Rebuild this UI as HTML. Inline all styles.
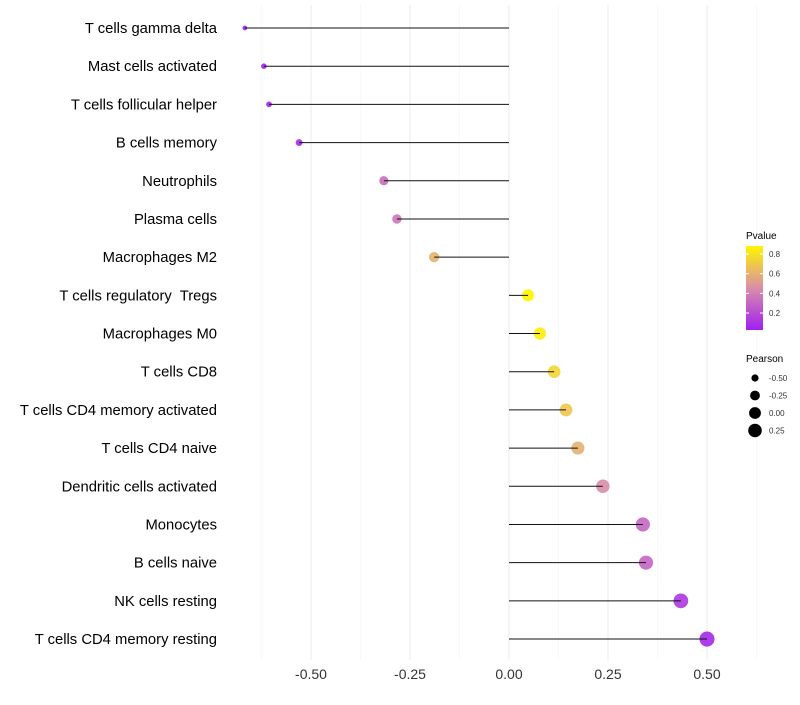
<!DOCTYPE html>
<html><head><meta charset="utf-8"><style>
body{margin:0;background:#fff;font-family:"Liberation Sans",sans-serif}
text{white-space:pre}
</style></head><body>
<svg id="chart" width="800" height="700" xmlns="http://www.w3.org/2000/svg" font-family="Liberation Sans, sans-serif">
<defs><linearGradient id="pg" x1="0" y1="1" x2="0" y2="0">
<stop offset="0" stop-color="#A020F0"/><stop offset="0.5" stop-color="#D98EA8"/><stop offset="1" stop-color="#FFF500"/></linearGradient></defs>
<g id="grid"></g>
<g id="dots"></g>
<g id="marks"></g>
<g id="ylab"></g>
<g id="xlab"></g>
<g>
<text x="746" y="239" font-size="10">Pvalue</text>
<rect x="746" y="246" width="17" height="84" fill="url(#pg)"/>
<g id="cbticks"></g>
</g>
<g>
<text x="746" y="362" font-size="10">Pearson</text>
<g id="sizeleg"></g>
</g>
</svg>
<script>
const categories=["T cells gamma delta","Mast cells activated","T cells follicular helper","B cells memory","Neutrophils","Plasma cells","Macrophages M2","T cells regulatory  Tregs","Macrophages M0","T cells CD8","T cells CD4 memory activated","T cells CD4 naive","Dendritic cells activated","Monocytes","B cells naive","NK cells resting","T cells CD4 memory resting"];
const pearson=[-0.667,-0.619,-0.606,-0.530,-0.316,-0.283,-0.189,0.048,0.078,0.114,0.144,0.174,0.237,0.338,0.346,0.434,0.500];
const pvalue=[0.03,0.04,0.05,0.07,0.33,0.36,0.6,0.88,0.85,0.75,0.68,0.6,0.45,0.3,0.3,0.12,0.06];
const xTicks=[-0.5,-0.25,0,0.25,0.5];
const xTickLabels=["-0.50","-0.25","0.00","0.25","0.50"];
const cbTicks=[0.2,0.4,0.6,0.8];
const sizeLegend=[-0.5,-0.25,0,0.25];
const NS="http://www.w3.org/2000/svg";
const x=v=>509+v*396;
const y=i=>28+i*38.19;
const r=v=>Math.max(1.6,Math.sqrt(Math.max(0,35+44*v)));
const cy=p=>313-(p-0.2)*98.3;
function col(p){const t=Math.max(0,Math.min(1,(p-0.027)/(0.88-0.027)));
 const a=[160,32,240],m=[217,142,168],b=[255,245,0];let c;
 if(t<0.5){const u=t/0.5;c=a.map((v,k)=>v+(m[k]-v)*u);}else{const u=(t-0.5)/0.5;c=m.map((v,k)=>v+(b[k]-v)*u);}
 return `rgb(${c.map(Math.round).join(',')})`;}
function mk(tag,attrs,parent){const e=document.createElementNS(NS,tag);for(const k in attrs)e.setAttribute(k,attrs[k]);parent.appendChild(e);return e;}
const grid=document.getElementById('grid'),marks=document.getElementById('marks'),dots=document.getElementById('dots'),ylab=document.getElementById('ylab'),xlab=document.getElementById('xlab');
for(let v=-0.625;v<=0.626;v+=0.125){
 const major=xTicks.some(t=>Math.abs(t-v)<1e-6);
 const l=mk('line',{x1:x(v),x2:x(v),y1:5,y2:660,stroke:major?'#ebebeb':'#f4f4f4','stroke-width':major?1:0.6},grid);
 
 
}
xTicks.forEach((t,i)=>{
 const e=mk('text',{x:x(t),y:679,'font-size':14,'text-anchor':'middle',fill:'#333'},xlab);e.textContent=xTickLabels[i];
 
 
});
categories.forEach((c,i)=>{
 const t=mk('text',{x:217,y:y(i)+5,'font-size':14.8,'text-anchor':'end',fill:'#000'},ylab);t.textContent=c;
 
 
 const d=mk('circle',{cx:x(pearson[i]),cy:y(i),r:r(pearson[i]),fill:col(pvalue[i]),'fill-opacity':0.9},dots);
 
 
 const l=mk('line',{x1:x(0),x2:x(pearson[i]),y1:y(i),y2:y(i),stroke:'#111','stroke-width':1},marks);
 
 
});
const cbt=document.getElementById('cbticks');
cbTicks.forEach(p=>{
 mk('line',{x1:746,x2:749,y1:cy(p),y2:cy(p),stroke:'#fff'},cbt);mk('line',{x1:760,x2:763,y1:cy(p),y2:cy(p),stroke:'#fff'},cbt);
 const t=mk('text',{x:769,y:cy(p)+3,'font-size':8,fill:'#333'},cbt);t.textContent=p.toFixed(1);
 
 
});
const sl=document.getElementById('sizeleg');
sizeLegend.forEach((v,i)=>{
 const yy=378+i*17.5;
 const c=mk('circle',{cx:755,cy:yy,r:r(v),fill:'#000'},sl);
 
 
 const t=mk('text',{x:769,y:yy+3,'font-size':8,fill:'#333'},sl);t.textContent=v.toFixed(2);
 
 
});
</script>
</body></html>
